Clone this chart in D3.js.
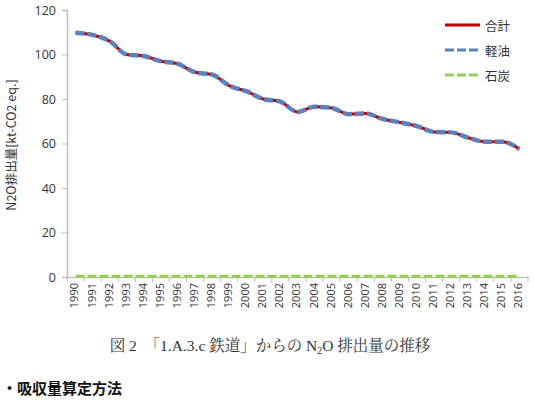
<!DOCTYPE html>
<html><head><meta charset="utf-8">
<script src="https://cdn.jsdelivr.net/npm/d3@7"></script>
<style>body{margin:0;background:#fff;} svg{display:block;}</style>
</head><body>
<script>
const years = ["1990","1991","1992","1993","1994","1995","1996","1997","1998","1999","2000","2001","2002","2003","2004","2005","2006","2007","2008","2009","2010","2011","2012","2013","2014","2015","2016"];
const total = [109.8,108.8,106.0,100.0,99.3,97.0,95.8,92.0,91.0,86.0,83.5,80.0,78.8,74.2,76.5,76.0,73.2,73.5,71.0,69.5,67.8,65.2,65.0,62.6,60.8,60.8,57.5];
const diesel = total.slice();
const coal = [0.3,0.3,0.3,0.3,0.3,0.3,0.3,0.3,0.3,0.3,0.3,0.3,0.3,0.3,0.3,0.3,0.3,0.3,0.3,0.3,0.3,0.3,0.3,0.3,0.3,0.3,0.3];
const yTicks = [0,20,40,60,80,100,120];
const seriesNames = ["合計","軽油","石炭"];

const W=534,H=400;
const svg=d3.select("body").append("svg").attr("width",W).attr("height",H);
const L=67,R=528,T=10,B=277;
const x=d3.scaleBand().domain(years).range([L,R]);
const y=d3.scaleLinear().domain([0,120]).range([B,T]);
const axisCol="#bfbfbf";
const font="'Noto Sans CJK JP', 'Noto Sans', sans-serif";
const numFont="'Open Sans', 'Noto Sans', sans-serif";

// y axis
const ya=svg.append("g").attr("transform",`translate(${L},0)`)
  .call(d3.axisLeft(y).tickValues(yTicks).tickSize(5).tickPadding(6));
ya.select(".domain").attr("stroke",axisCol).attr("stroke-width",1.5);
ya.selectAll(".tick line").attr("stroke",axisCol);
ya.selectAll(".tick text").attr("font-family",numFont).attr("font-size",12.5).attr("fill","#333");

// x axis
const xa=svg.append("g").attr("transform",`translate(0,${B})`)
  .call(d3.axisBottom(x).tickSize(0).tickPadding(6));
xa.select(".domain").attr("stroke",axisCol).attr("stroke-width",1.5);
xa.selectAll(".tick text").attr("font-family",numFont).attr("font-size",11).attr("fill","#333")
  .attr("transform","rotate(-90)").attr("text-anchor","end").attr("y",0).attr("x",-6)
  .attr("dominant-baseline","middle").attr("dy",0);
// boundary ticks
const bounds=years.map(d=>x(d)).concat([R]);
svg.append("g").selectAll("line").data(bounds).join("line")
  .attr("x1",d=>d).attr("x2",d=>d).attr("y1",B).attr("y2",B+5).attr("stroke",axisCol).attr("stroke-width",1);

const line=d3.line().x((d,i)=>x(years[i])+x.bandwidth()/2).y(d=>y(d)).curve(d3.curveMonotoneX);

svg.append("path").datum(total).attr("d",line).attr("fill","none").attr("stroke","#c00000").attr("stroke-width",3);
svg.append("path").datum(diesel).attr("d",line).attr("fill","none").attr("stroke","#5a82be").attr("stroke-width",4.5).attr("stroke-dasharray","9 3");
svg.append("path").datum(coal).attr("d",line).attr("fill","none").attr("stroke","#92d050").attr("stroke-width",3).attr("stroke-dasharray","9 3");

// y label
svg.append("text").attr("transform","translate(16,145) rotate(-90)").attr("text-anchor","middle")
  .attr("font-family",font).attr("font-size",12.5).attr("fill","#333").text("N2O排出量[kt-CO2 eq.]");

// legend
const legCols=["#c00000","#5a82be","#92d050"];
const legDash=[null,"9 3","9 3"];
seriesNames.forEach((n,i)=>{
  const ly=25+i*25;
  svg.append("line").attr("x1",445).attr("x2",480).attr("y1",ly).attr("y2",ly)
    .attr("stroke",legCols[i]).attr("stroke-width",3).attr("stroke-dasharray",legDash[i]);
  svg.append("text").attr("x",485).attr("y",ly).attr("dominant-baseline","central")
    .attr("font-family",font).attr("font-size",12.5).attr("fill","#333").text(n);
});

// caption
const cap=svg.append("text").attr("x",270).attr("y",351).attr("text-anchor","middle")
  .attr("font-family","'Liberation Serif', 'Noto Serif CJK JP', serif").attr("font-size",15.5).attr("fill","#333");
cap.append("tspan").text("図 2　「1.A.3.c  鉄道」からの N");
cap.append("tspan").attr("font-size",10).attr("dy",3).text("2");
cap.append("tspan").attr("dy",-3).text("O 排出量の推移");

svg.append("text").attr("x",2).attr("y",394).attr("font-family",font).attr("font-weight","bold")
  .attr("font-size",15).attr("fill","#111").text("・吸収量算定方法");
</script>
</body></html>
